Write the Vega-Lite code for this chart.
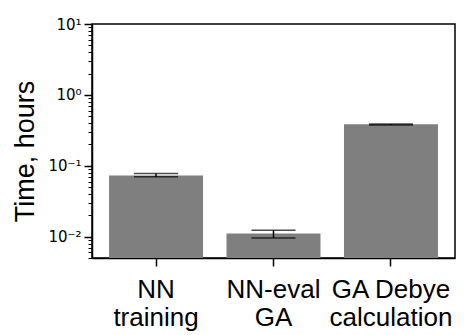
{
  "$schema": "https://vega.github.io/schema/vega-lite/v6.json",
  "width": 363,
  "height": 234,
  "autosize": "none",
  "padding": {"left": 92, "top": 24, "right": 14, "bottom": 77},
  "config": {
    "view": {"stroke": "black", "strokeWidth": 1.5},
    "axis": {"domainColor": "black", "tickColor": "black", "labelColor": "black", "titleColor": "black", "grid": false}
  },
  "data": {
    "values": [
      {"task": "NN\ntraining", "time": 0.073, "lo": 0.0699, "hi": 0.0777},
      {"task": "NN-eval\nGA", "time": 0.0111, "lo": 0.0096, "hi": 0.0123},
      {"task": "GA Debye\ncalculation", "time": 0.386, "lo": 0.375, "hi": 0.39}
    ]
  },
  "encoding": {
    "x": {
      "field": "task", "type": "nominal", "sort": null,
      "scale": {"paddingInner": 0.2, "paddingOuter": 0.145},
      "axis": {
        "title": null, "labelAngle": 0, "labelExpr": "split(datum.label, '\\n')",
        "labelFont": "Liberation Sans", "labelFontSize": 26, "labelLineHeight": 28,
        "labelPadding": 10, "tickSize": 8, "tickWidth": 1.5, "domainWidth": 1.5
      }
    }
  },
  "layer": [
    {
      "mark": {"type": "bar", "color": "#7f7f7f"},
      "encoding": {
        "y": {
          "field": "time", "type": "quantitative",
          "scale": {"type": "log", "domain": [0.005, 10], "nice": false},
          "axis": {
            "orient": "left",
            "values": [0.01, 0.1, 1, 10],
            "labelExpr": "datum.value == 10 ? '10¹' : datum.value == 1 ? '10⁰' : datum.value == 0.1 ? '10⁻¹' : '10⁻²'",
            "labelFont": "DejaVu Sans", "labelFontSize": 15, "labelPadding": 3,
            "tickSize": 8, "tickWidth": 1.5, "domainWidth": 1.5,
            "title": "Time, hours", "titleFont": "Liberation Sans", "titleFontSize": 27,
            "titleFontWeight": "normal", "titlePadding": 8, "titleY": 127
          }
        },
        "y2": {"datum": 0.005}
      }
    },
    {
      "mark": {"type": "rule", "color": "black", "strokeWidth": 1.5},
      "encoding": {
        "y": {
          "field": "lo", "type": "quantitative",
          "axis": {
            "orient": "left",
            "values": [0.005, 0.006, 0.007, 0.008, 0.009, 0.02, 0.03, 0.04, 0.05, 0.06, 0.07, 0.08, 0.09, 0.2, 0.3, 0.4, 0.5, 0.6, 0.7, 0.8, 0.9, 2, 3, 4, 5, 6, 7, 8, 9],
            "labels": false, "domain": false, "title": null, "tickSize": 4, "tickWidth": 1
          }
        },
        "y2": {"field": "hi"}
      }
    },
    {
      "mark": {"type": "tick", "color": "black", "size": 44, "thickness": 1.5},
      "encoding": {"y": {"field": "lo", "type": "quantitative", "axis": null}}
    },
    {
      "mark": {"type": "tick", "color": "black", "size": 44, "thickness": 1.5},
      "encoding": {"y": {"field": "hi", "type": "quantitative", "axis": null}}
    }
  ],
  "resolve": {"axis": {"y": "independent"}}
}
